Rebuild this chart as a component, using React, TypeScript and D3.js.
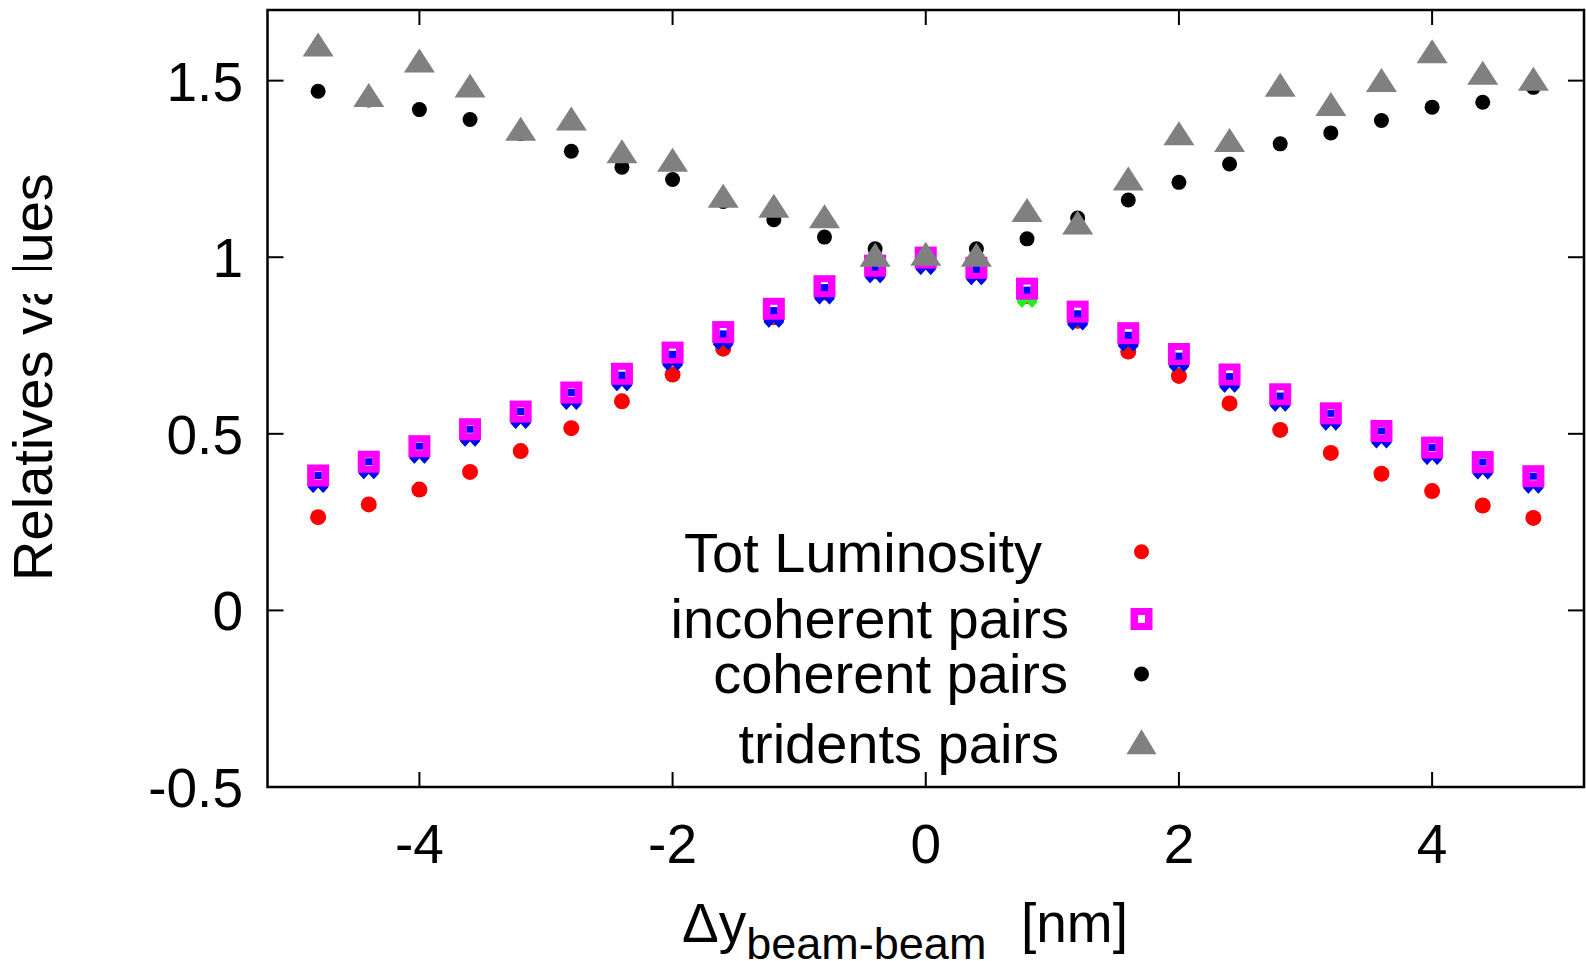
import React from 'react';
import * as d3 from 'd3';

const xValues = [-4.8, -4.4, -4.0, -3.6, -3.2, -2.8, -2.4, -2.0, -1.6, -1.2, -0.8, -0.4, 0, 0.4, 0.8, 1.2, 1.6, 2.0, 2.4, 2.8, 3.2, 3.6, 4.0, 4.4, 4.8];
const totLuminosity = [0.264, 0.300, 0.342, 0.392, 0.451, 0.516, 0.592, 0.668, 0.741, 0.83, 0.90, 0.96, 1.0, 0.96, 0.89, 0.82, 0.733, 0.664, 0.586, 0.511, 0.446, 0.387, 0.338, 0.297, 0.262];
const incoherentPairs = [0.382, 0.421, 0.465, 0.513, 0.563, 0.617, 0.670, 0.730, 0.788, 0.854, 0.918, 0.976, 0.999, 0.970, 0.911, 0.846, 0.785, 0.726, 0.668, 0.612, 0.558, 0.508, 0.461, 0.420, 0.380];
const coherentPairs = [1.470, 1.445, 1.418, 1.390, 1.350, 1.300, 1.255, 1.220, 1.158, 1.106, 1.057, 1.024, 1.0, 1.024, 1.052, 1.111, 1.162, 1.212, 1.264, 1.321, 1.352, 1.387, 1.425, 1.439, 1.481];
const tridentsPairs = [1.602, 1.459, 1.557, 1.486, 1.364, 1.393, 1.300, 1.276, 1.174, 1.146, 1.116, 1.007, 1.010, 1.007, 1.134, 1.098, 1.223, 1.351, 1.332, 1.488, 1.434, 1.502, 1.583, 1.522, 1.505];
// partially hidden series under the incoherent-pairs markers
const blueSeries = [0.382, 0.421, 0.465, 0.513, 0.563, 0.617, 0.670, 0.728, 0.786, 0.850, 0.916, 0.976, 0.999, 0.970, 0.930, 0.842, 0.782, 0.724, 0.666, 0.612, 0.558, 0.508, 0.461, 0.420, 0.380];
const greenSeries = [0.382, 0.421, 0.465, 0.513, 0.563, 0.617, 0.670, 0.728, 0.786, 0.850, 0.916, 0.976, 0.999, 0.970, 0.906, 0.842, 0.782, 0.724, 0.666, 0.612, 0.558, 0.508, 0.461, 0.420, 0.380];
const blueInner = [0.382, 0.421, 0.465, 0.513, 0.563, 0.617, 0.666, 0.725, 0.783, 0.849, 0.914, 0.972, 0.996, 0.966, 0.907, 0.840, 0.779, 0.720, 0.662, 0.607, 0.558, 0.508, 0.461, 0.420, 0.380];

const xTicks = [-4, -2, 0, 2, 4];
const yTicks = [-0.5, 0, 0.5, 1, 1.5];
const legendLabels = ['Tot Luminosity', 'incoherent pairs', 'coherent pairs', 'tridents pairs'];

const W = 1586;
const H = 961;
const left = 267.5, right = 1584, top = 10, bottom = 787;
const FONT = '"Liberation Sans", Arial, Helvetica, sans-serif';

const x = d3.scaleLinear().domain([-5.2, 5.2]).range([left, right]);
const y = d3.scaleLinear().domain([-0.5, 1.7]).range([bottom, top]);

const GRAY = '#808080';

function triPath(cx: number, cy: number, w = 31, h = 24) {
  return `M${cx},${cy - h / 2} L${cx + w / 2},${cy + h / 2} L${cx - w / 2},${cy + h / 2} Z`;
}
function teethPath(cx: number, cy: number) {
  return `M${cx - 10},${cy + 8} L${cx + 10},${cy + 8} L${cx + 10},${cy + 12} L${cx + 5},${cy + 17.5} L${cx},${cy + 12} L${cx - 5},${cy + 17.5} L${cx - 10},${cy + 12} Z`;
}
function squareMarker(cx: number, cy: number, key: string, withHole = true) {
  return (
    <g key={key}>
      <rect x={cx - 11} y={cy - 11} width={22} height={22} fill="#ff00ff" />
      {withHole && <rect x={cx - 3.5} y={cy - 4} width={7} height={8} fill="#ffffff" />}
    </g>
  );
}

export default function App() {
  const legendY = [551.7, 619, 674, 741.7];
  const legendTextY = [571.7, 637.7, 692.7, 763.3];
  const legendTextEnd = [1042, 1069, 1068, 1059];
  const legendX = 1141.5;

  return (
    <svg width={W} height={H} style={{ position: 'absolute', left: 0, top: 0, background: '#fff' }} fontFamily={FONT}>
      <rect x={0} y={0} width={W} height={H} fill="#fff" />

      {/* data */}
      {xValues.map((xv, i) => (
        <circle key={'r' + i} cx={x(xv)} cy={y(totLuminosity[i])} r={8} fill="#ff0000" />
      ))}
      {xValues.map((xv, i) => (
        <path key={'g' + i} d={teethPath(x(xv), y(greenSeries[i]))} fill="#22ee22" />
      ))}
      {xValues.map((xv, i) => (
        <path key={'b' + i} d={teethPath(x(xv), y(blueSeries[i]))} fill="#0000ff" />
      ))}
      {xValues.map((xv, i) => squareMarker(x(xv), y(incoherentPairs[i]), 'm' + i))}
      {xValues.map((xv, i) => (
        <rect key={'bi' + i} x={x(xv) - 3.5} y={y(blueInner[i]) - 3.5} width={7} height={7} fill="#0000ff" />
      ))}
      {xValues.map((xv, i) => (
        <circle key={'c' + i} cx={x(xv)} cy={y(coherentPairs[i])} r={7.5} fill="#000000" />
      ))}
      {xValues.map((xv, i) => (
        <path key={'t' + i} d={triPath(x(xv), y(tridentsPairs[i]))} fill={GRAY} />
      ))}

      {/* frame */}
      <rect x={left} y={top} width={right - left} height={bottom - top} fill="none" stroke="#000" strokeWidth={2.5} />
      {xTicks.map((t) => (
        <g key={'xt' + t}>
          <line x1={x(t)} x2={x(t)} y1={bottom} y2={bottom - 15} stroke="#000" strokeWidth={2} />
          <line x1={x(t)} x2={x(t)} y1={top} y2={top + 15} stroke="#000" strokeWidth={2} />
          <text x={x(t)} y={863} fontSize={55} textAnchor="middle" fill="#000">{t}</text>
        </g>
      ))}
      {yTicks.map((t) => (
        <g key={'yt' + t}>
          <line x1={left} x2={left + 16} y1={y(t)} y2={y(t)} stroke="#000" strokeWidth={2} />
          <line x1={right} x2={right - 16} y1={y(t)} y2={y(t)} stroke="#000" strokeWidth={2} />
          <text x={243} y={y(t) + 20} fontSize={55} textAnchor="end" fill="#000">{t}</text>
        </g>
      ))}

      {/* legend */}
      {legendLabels.map((lab, i) => (
        <text key={'lt' + i} x={legendTextEnd[i]} y={legendTextY[i]} fontSize={56} textAnchor="end" fill="#000">{lab}</text>
      ))}
      <circle cx={legendX} cy={legendY[0]} r={7.5} fill="#ff0000" />
      {squareMarker(legendX, legendY[1], 'lm')}
      <circle cx={legendX} cy={legendY[2]} r={7.5} fill="#000" />
      <path d={triPath(legendX, legendY[3], 30, 25)} fill={GRAY} />

      {/* axis labels */}
      <text x={682} y={942} fontSize={55} fill="#000">
        Δy<tspan fontSize={45} dy={17}>beam-beam</tspan>
      </text>
      <text x={1021} y={942} fontSize={55} fill="#000">[nm]</text>
      <text transform={`translate(52,377) rotate(-90)`} fontSize={56} textAnchor="middle" fill="#000">Relatives values</text>
      <rect x={8} y={270} width={48} height={24} fill="#fff" />
    </svg>
  );
}
